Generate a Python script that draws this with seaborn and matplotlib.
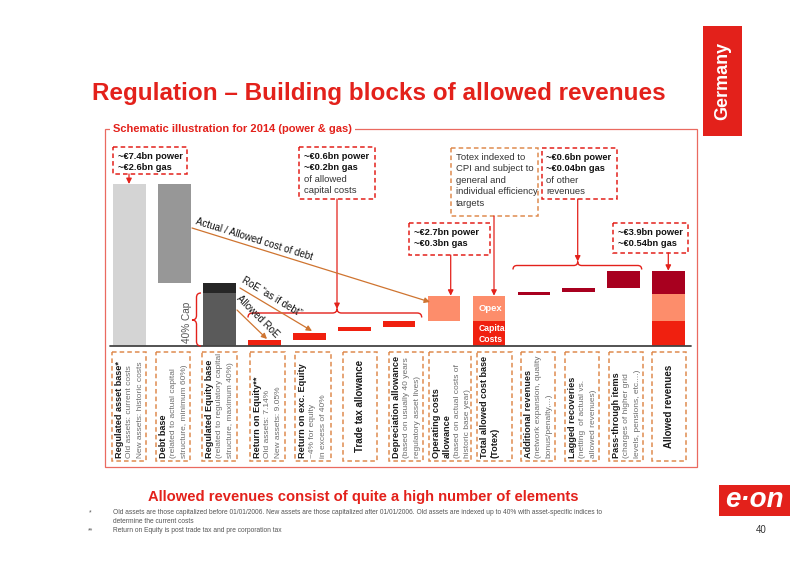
import numpy as np
import pandas as pd
import seaborn as sns
import matplotlib.pyplot as plt
from matplotlib.patches import Rectangle, PathPatch
from matplotlib.path import Path

sns.set_theme(style="white")
plt.rcParams["font.family"] = ["Liberation Sans", "DejaVu Sans"]

RED = "#e3211b"
BOX_ORANGE = "#df8c4f"
ARROW_ORANGE = "#cf7430"

# waterfall steps (left to right)
steps = ["RAB", "Debt", "Equity", "RoE", "RoExcEq", "TradeTax", "Depreciation",
         "Opex", "Totex", "AddRev", "Lagged", "PassThrough", "Allowed"]

block_step = ["RAB", "Debt", "Equity", "Equity", "RoE", "RoExcEq", "TradeTax",
              "Depreciation", "Opex", "Totex", "Totex", "AddRev", "Lagged",
              "PassThrough", "Allowed", "Allowed", "Allowed"]
block_kind = ["rab", "debt", "equity", "cap", "capital", "capital", "capital",
              "capital", "opex", "capital", "opex", "other", "other", "other",
              "capital", "opex", "other"]
block_bottom = [0, 62.7, 0, 53.3, 0, 6.0, 15.0, 18.7, 25.3, 0, 25.3, 50.7, 54.3,
                58.3, 0, 25.3, 51.7]
block_top = [162, 162, 53.3, 62.7, 6.0, 12.7, 18.7, 25.3, 50.3, 25.3, 50.3, 54.3,
             58.3, 75.3, 25.3, 51.7, 75.3]

kind_colors = {"rab": "#d4d4d4", "debt": "#979797", "equity": "#5a5a5a",
               "cap": "#262626", "capital": "#f0200f", "opex": "#fd8d6b",
               "other": "#a8001f"}

# label boxes under the bars: (text, bold)
box_labels = [
    [("Regulated asset base*", True), ("Old assets: current costs", False), ("New assets: historic costs", False)],
    [("Debt base", True), ("(related to actual capital", False), ("structure, minimum 60%)", False)],
    [("Regulated Equity base", True), ("(related to regulatory capital", False), ("structure, maximum 40%)", False)],
    [("Return on Equity**", True), ("Old assets: 7.14%", False), ("New assets: 9.05%", False)],
    [("Return on exc. Equity", True), ("~4% for equity", False), ("in excess of 40%", False)],
    [("Trade tax allowance", True)],
    [("Depreciation allowance", True), ("(based on usually 40 years", False), ("regulatory asset lives)", False)],
    [("Operating costs", True), ("allowance", True), ("(based on actual costs of", False), ("historic base year)", False)],
    [("Total allowed cost base", True), ("(Totex)", True)],
    [("Additional revenues", True), ("(network expansion, quality", False), ("bonus/penalty,...)", False)],
    [("Lagged recoveries", True), ("(netting  of actual vs.", False), ("allowed revenues)", False)],
    [("Pass-through items", True), ("(charges of higher grid", False), ("levels, pensions, etc....)", False)],
    [("Allowed revenues", True)],
]
box_left = [112, 156, 202, 250, 295, 343, 389, 429, 477, 521, 565, 609, 652]
box_right = [146, 190, 237, 285, 331, 377, 423, 471, 512, 555, 599, 643, 686]

df = pd.DataFrame({"step": block_step, "kind": block_kind,
                   "bottom": block_bottom, "top": block_top})
df["height"] = df["top"] - df["bottom"]
df["pos"] = df["step"].map(steps.index)

fig = plt.figure(figsize=(8, 5.65), dpi=100)

# bar axes: baseline at y=346px, 1 unit = 1px
ax = fig.add_axes([107.3 / 800, (565 - 346) / 565, 583.7 / 800, 175 / 565], zorder=1)
for kind, sub in df.groupby("kind"):
    sub = sub.sort_values("pos")
    sns.barplot(data=sub, x="step", y="height", order=steps,
                bottom=sub["bottom"].to_numpy(), color=kind_colors[kind],
                width=0.724, saturation=1, errorbar=None, linewidth=0, ax=ax)
ax.set_xlim(-0.5, 12.5)
ax.set_ylim(0, 175)
ax.axhline(0, xmin=0.005, xmax=1, color="#444444", lw=1.3, clip_on=False)
ax.axis("off")

# overlay in pixel coordinates for the annotation layer
ov = fig.add_axes([0, 0, 1, 1], zorder=2)
ov.set_xlim(0, 800)
ov.set_ylim(565, 0)
ov.axis("off")


def brace(u0, u1, um, r, along_x=True, line=0.0, **kw):
    pts = [(u0, r), (u0, 0), (u0 + r, 0), (um - r, 0), (um, 0), (um, -r),
           (um, 0), (um + r, 0), (u1 - r, 0), (u1, 0), (u1, r)]
    codes = [Path.MOVETO, Path.CURVE3, Path.CURVE3, Path.LINETO, Path.CURVE3,
             Path.CURVE3, Path.CURVE3, Path.CURVE3, Path.LINETO, Path.CURVE3,
             Path.CURVE3]
    if along_x:
        verts = [(u, line + v) for u, v in pts]
    else:
        verts = [(line + v, u) for u, v in pts]
    ov.add_patch(PathPatch(Path(verts, codes), fill=False, **kw))


def dashed_box(x0, y0, x1, y1, color):
    ov.add_patch(Rectangle((x0, y0), x1 - x0, y1 - y0, fill=False, edgecolor=color,
                           lw=1.1, linestyle=(0, (3, 2))))


def arrow(x0, y0, x1, y1, color, lw=0.9):
    ov.annotate("", xy=(x1, y1), xytext=(x0, y0),
                arrowprops=dict(arrowstyle="-|>", color=color, lw=lw,
                                mutation_scale=8, shrinkA=0, shrinkB=0))


# headings
ov.text(92, 100, "Regulation \u2013 Building blocks of allowed revenues", color=RED,
        fontsize=17.5, fontweight="bold", ha="left", va="baseline")
ov.add_patch(Rectangle((703, 26), 39, 110, color=RED, lw=0))
ov.text(722.5, 81, "Germany", color="white", fontsize=13, fontweight="bold",
        rotation=90, ha="center", va="center")

# frame with its title
ov.add_patch(Rectangle((105, 129.3), 592, 338, fill=False, edgecolor="#ea6a60", lw=0.9))
ov.text(113, 129.5, "Schematic illustration for 2014 (power & gas)", color=RED,
        fontsize=8, fontweight="bold", ha="left", va="center",
        bbox=dict(facecolor="white", edgecolor="none", pad=2.5))

# label boxes with rotated text
for labels, x0, x1 in zip(box_labels, box_left, box_right):
    dashed_box(x0, 352, x1, 461, BOX_ORANGE)
    if len(labels) == 1:
        txt, bold = labels[0]
        ov.text((x0 + x1) / 2, 406, txt, rotation=90, ha="center", va="center",
                fontsize=7, fontweight="bold", color="#1a1a1a")
        continue
    for k, (txt, bold) in enumerate(labels):
        ov.text(x0 + 7.5 + k * 10.3, 457.5, txt, rotation=90, rotation_mode="anchor",
                ha="left", va="center", fontsize=6.6 if bold else 6,
                fontweight="bold" if bold else "normal",
                color="#1a1a1a" if bold else "#6e6e6e")

# Opex / Capital Costs inside the Totex bar
ov.text(479, 308.5, "Opex", color="white", fontsize=6.8, fontweight="bold", va="center")
ov.text(478.3, 328.5, "Capital", color="white", fontsize=6.2, fontweight="bold", va="center")
ov.text(478.3, 339.5, "Costs", color="white", fontsize=6.2, fontweight="bold", va="center")

# value call-outs
callouts = [
    (113, 147, 187, 174, RED, [("~\u20ac7.4bn power", True), ("~\u20ac2.6bn gas", True)]),
    (299, 147, 375, 199, RED, [("~\u20ac0.6bn power", True), ("~\u20ac0.2bn gas", True),
                               ("of allowed", False), ("capital costs", False)]),
    (451, 148, 538, 216, BOX_ORANGE, [("Totex indexed to", False), ("CPI and subject to", False),
                                      ("general and", False), ("individual efficiency", False),
                                      ("targets", False)]),
    (542, 148, 617, 199, RED, [("~\u20ac0.6bn power", True), ("~\u20ac0.04bn gas", True),
                               ("of other", False), ("revenues", False)]),
    (409, 223, 490, 255, RED, [("~\u20ac2.7bn power", True), ("~\u20ac0.3bn gas", True)]),
    (613, 223, 688, 253, RED, [("~\u20ac3.9bn power", True), ("~\u20ac0.54bn gas", True)]),
]
for x0, y0, x1, y1, col, lines in callouts:
    dashed_box(x0, y0, x1, y1, col)
    for k, (txt, bold) in enumerate(lines):
        ov.text(x0 + 4.5, y0 + 9.5 + k * 11.4, txt, fontsize=6.7 if bold else 6.8,
                fontweight="bold" if bold else "normal",
                color="#111111" if bold else "#333333", ha="left", va="center")

arrow(129, 174, 129, 184, RED)
arrow(337, 199, 337, 309, RED)
arrow(494, 216, 494, 295.7, RED)
arrow(577.7, 199, 577.7, 261.5, RED)
arrow(450.7, 255, 450.7, 295.7, RED)
arrow(668.3, 253, 668.3, 270.7, RED)

# braces
brace(248, 421.7, 337, 4.5, along_x=True, line=313, color=RED, lw=1)
brace(513, 641.7, 577.7, 4.0, along_x=True, line=265.5, color=RED, lw=1)
brace(293, 346, 320, 4.5, along_x=False, line=196.5, color=RED, lw=1)
ov.text(187, 322, "40% Cap", rotation=90, ha="center", va="center", fontsize=7.2,
        color="#555555")

# orange explanatory arrows
arrow(192, 228, 430, 302, ARROW_ORANGE)
ov.text(254, 239, "Actual / Allowed cost of debt", rotation=-17.3, rotation_mode="anchor",
        ha="center", va="center", fontsize=7, color="#111111")
arrow(240, 288, 312, 331, ARROW_ORANGE)
ov.text(272, 296.5, "RoE \u201cas if debt\u201d", rotation=-30.8, rotation_mode="anchor",
        ha="center", va="center", fontsize=7, color="#111111")
arrow(237, 310, 267, 339, ARROW_ORANGE)
ov.text(258, 317, "Allowed RoE", rotation=-45, rotation_mode="anchor",
        ha="center", va="center", fontsize=7, color="#111111")

# bottom message and footnotes
ov.text(363, 497, "Allowed revenues consist of quite a high number of elements",
        color=RED, fontsize=10.6, fontweight="bold", ha="center", va="center")
ov.text(89, 512.5, "*", fontsize=4.8, color="#555555", va="center")
ov.text(113, 512.5, "Old assets are those capitalized before 01/01/2006. New assets are those "
        "capitalized after 01/01/2006. Old assets are indexed up to 40% with asset-specific "
        "indices to", fontsize=4.8, color="#555555", va="center")
ov.text(113, 521.5, "determine the current costs", fontsize=4.8, color="#555555", va="center")
ov.text(88, 531, "**", fontsize=4.8, color="#555555", va="center")
ov.text(113, 531, "Return on Equity is post trade tax and pre corporation tax", fontsize=4.8,
        color="#555555", va="center")

# logo and page number
ov.add_patch(Rectangle((719, 485), 71, 31, color=RED, lw=0))
ov.text(754, 500, "e\u00b7on", color="white", fontsize=20, fontweight="bold",
        fontstyle="italic", ha="center", va="center")
ov.text(761, 530, "40", fontsize=7, color="#333333", ha="center", va="center")

fig.savefig("out.png", dpi=100)
